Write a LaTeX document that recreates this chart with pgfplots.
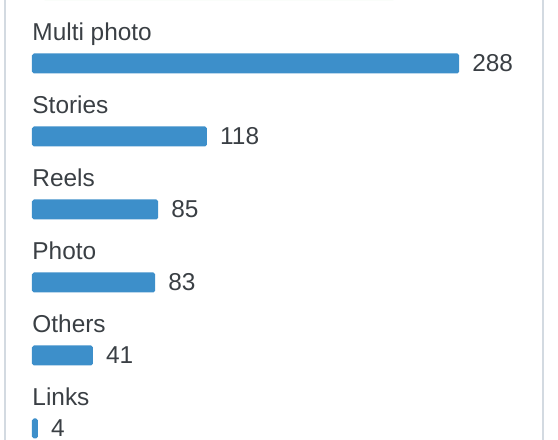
\documentclass[border=0pt]{standalone}
\usepackage{fontspec}
\setmainfont{Liberation Sans}
\usepackage{pgfplots}
\pgfplotsset{compat=1.18}
\definecolor{barc}{HTML}{3D8FCA}
\definecolor{txt}{HTML}{3A3F44}
\definecolor{bord}{HTML}{D3DAE1}
\definecolor{grn}{HTML}{D6EFD9}
\begin{document}
\begin{tikzpicture}
\fontsize{24.5}{29}\selectfont
\begin{axis}[
  xbar,
  x=1.483bp, y=73bp,
  xmin=0, xmax=300,
  ymin=-5.5, ymax=0.5,
  anchor=south west,
  at={(32bp,{376.5bp-5.5*73bp})},
  bar width=20bp,
  axis line style={draw=none},
  major tick style={draw=none},
  xtick=\empty,
  ytick={0,-1,-2,-3,-4,-5},
  yticklabels={Multi photo,Stories,Reels,Photo,Others,Links},
  yticklabel style={anchor=base west, inner sep=0pt, xshift=4.5bp, yshift=23.3bp, text=txt, font=\fontsize{24.5}{29}\selectfont},
  /pgf/number format/assume math mode=true,
  nodes near coords,
  nodes near coords style={anchor=west, inner sep=0pt, xshift=13bp, text=txt, font=\fontsize{24.5}{29}\selectfont},
  clip=false,
]
\addplot[fill=barc, draw=none, rounded corners=1.8bp] coordinates {
  (288,0) (118,-1) (85,-2) (83,-3) (41,-4) (4,-5)
};
\end{axis}
\pgfresetboundingbox
\path[use as bounding box] (0,0) rectangle (558bp,440bp);
\draw[bord, line width=2bp] (4.5bp,0) -- (4.5bp,440bp);
\draw[bord, line width=2bp] (543bp,0) -- (543bp,440bp);
\draw[grn, line width=1.5bp, rounded corners=6bp] (40bp,448bp) -- (40bp,440.5bp) -- (398bp,440.5bp) -- (398bp,448bp);
\end{tikzpicture}
\end{document}
